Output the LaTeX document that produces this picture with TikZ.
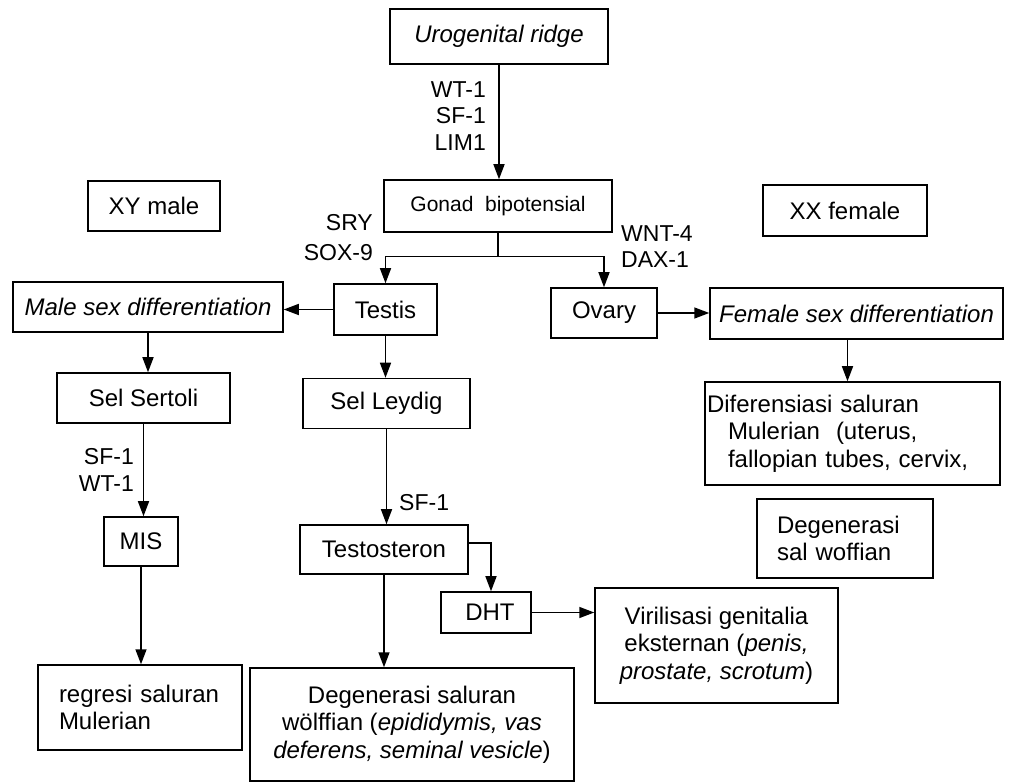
\documentclass[tikz,border=0pt]{standalone}
\usepackage{fontspec}
\setmainfont{Liberation Sans}
\usetikzlibrary{arrows.meta}
\begin{document}
\begin{tikzpicture}[x=1pt,y=-1pt,
  box/.style={draw, line width=1.5pt, inner sep=0pt, align=center,
              font=\fontsize{24pt}{27.5pt}\selectfont},
  leftbox/.style={box, align=left},
  wire/.style={line width=1.5pt},
  arr/.style={wire, -{Triangle[length=15pt,width=11pt]}},
  lbl/.style={inner sep=0pt, font=\fontsize{23pt}{26.5pt}\selectfont},
]
\useasboundingbox (0,0) rectangle (1013,783);

% --- boxes ---
\node[box, minimum width=218pt, minimum height=55pt] (uro) at (499,36.5) {\textit{Urogenital ridge}};
\node[box, minimum width=228pt, minimum height=52pt, font=\fontsize{21pt}{25pt}\selectfont] (gonad) at (498,206) {Gonad\ \ bipotensial};
\node[box, minimum width=132pt, minimum height=50pt] (xym) at (154,206) {XY male};
\node[box, minimum width=164pt, minimum height=51pt] (xxf) at (845,210.5) {XX female};

\node[box, minimum width=270pt, minimum height=50pt] (male) at (148,307) {\textit{Male sex differentiation}};
\node[box, minimum width=103pt, minimum height=51pt] (testis) at (385.5,309.5) {Testis};
\node[box, minimum width=106pt, minimum height=50pt] (ovary) at (604,313) {Ovary};
\node[box, minimum width=293pt, minimum height=51pt] (female) at (856.5,313.5) {\textit{Female sex differentiation}};

\node[box, minimum width=173pt, minimum height=50pt] (sertoli) at (143.5,398) {Sel Sertoli};
\node[box, minimum width=167pt, minimum height=50pt] (leydig) at (386.5,403.5) {Sel Leydig};
\node[leftbox, inner xsep=2pt, text width=291pt, minimum width=295pt, minimum height=103pt] (difer) at (852.5,433.5)
  {Diferensiasi saluran\\\hspace*{21pt}Mulerian\ \ (uterus,\\\hspace*{21pt}fallopian tubes, cervix,};
\node[leftbox, inner xsep=20pt, text width=136pt, minimum width=176pt, minimum height=79pt] (degsal) at (845,538.5)
  {Degenerasi\\sal woffian};

\node[box, minimum width=74pt, minimum height=49pt] (mis) at (141,541.5) {MIS};
\node[box, minimum width=168pt, minimum height=49pt] (testo) at (384,549.5) {Testosteron};
\node[box, minimum width=90pt, minimum height=41pt] (dht) at (486,612.5) {\hspace*{8pt}DHT};
\node[box, minimum width=243pt, minimum height=115pt] (viril) at (716.5,645.5)
  {Virilisasi genitalia\\eksternan (\textit{penis,}\\\textit{prostate, scrotum})};

\node[leftbox, inner xsep=21pt, text width=162pt, minimum width=204pt, minimum height=85pt] (regresi) at (140,707.5)
  {regresi saluran\\Mulerian};
\node[box, minimum width=324pt, minimum height=113pt] (degwol) at (412,724.5)
  {Degenerasi saluran\\wölffian (\textit{epididymis, vas}\\\textit{deferens, seminal vesicle})};

% --- factor labels ---
\node[lbl, align=right, anchor=east] (fA) at (486,116) {WT-1\\SF-1\\LIM1};
\node[lbl, align=right, anchor=east, font=\fontsize{23pt}{30pt}\selectfont] (fB) at (373,238) {SRY\\SOX-9};
\node[lbl, align=left, anchor=west] (fC) at (621,246.5) {WNT-4\\DAX-1};
\node[lbl, align=right, anchor=east] (fD) at (134,470) {SF-1\\WT-1};
\node[lbl, anchor=west] (fE) at (399,503) {SF-1};

% --- connectors ---
\draw[arr] (uro.south) -- (uro.south |- gonad.north);
\coordinate (split) at ([yshift=-24pt]gonad.south);
\draw[wire] (gonad.south) -- (split);
\draw[arr] (split) -| (testis.north);
\draw[arr] (split) -| (ovary.north);
\draw[arr] (testis.west) -- (testis.west -| male.east);
\draw[arr] (ovary.east) -- (ovary.east -| female.west);
\draw[arr] (testis.south) -- (testis.south |- leydig.north);
\draw[arr] (male.south) -- (male.south |- sertoli.north);
\draw[arr] ([xshift=-9pt]female.south) -- ([xshift=-9pt]female.south |- difer.north);
\draw[arr] (sertoli.south) -- (sertoli.south |- mis.north);
\draw[arr] (mis.south) -- (mis.south |- regresi.north);
\draw[arr] (leydig.south) -- (leydig.south |- testo.north);
\draw[arr] ([yshift=6.5pt]testo.east) -| ([xshift=5pt]dht.north);
\draw[arr] (testo.south) -- (testo.south |- degwol.north);
\draw[arr] (dht.east) -- (dht.east -| viril.west);
\end{tikzpicture}
\end{document}
